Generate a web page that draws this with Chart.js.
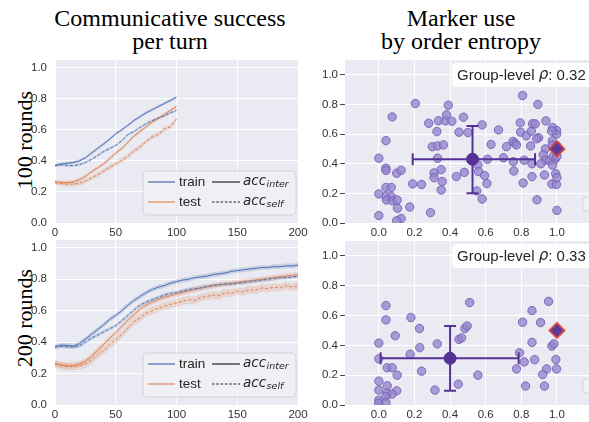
<!DOCTYPE html>
<html>
<head>
<meta charset="utf-8">
<script src="https://cdn.jsdelivr.net/npm/chart.js@4.4.0/dist/chart.umd.min.js"></script>
<style>
body { margin: 0; background: #fff; width: 589px; height: 422px; overflow: hidden; position: relative; }
canvas { position: absolute; }
.title { position: absolute; width: 300px; font-family: "Liberation Serif", serif; font-size: 24px; line-height: 23px; text-align: center; color: #000; white-space: nowrap; }
.row { position: absolute; width: 130px; height: 26px; line-height: 26px; font-family: "Liberation Serif", serif; font-size: 22px; text-align: center; transform: rotate(-90deg); white-space: nowrap; color: #000; }
</style>
</head>
<body>
<div class="title" style="left:20px;top:7px">Communicative success<br>per turn</div>
<div class="title" style="left:311px;top:7px">Marker use<br>by order entropy</div>
<div class="row" style="left:-40px;top:127px">100 rounds</div>
<div class="row" style="left:-40px;top:305px">200 rounds</div>

<canvas id="lineTop" width="300" height="190" style="left:20px;top:55px"></canvas>
<canvas id="scatTop" width="289" height="190" style="left:300px;top:55px"></canvas>
<canvas id="lineBot" width="300" height="192" style="left:20px;top:235px"></canvas>
<canvas id="scatBot" width="289" height="191" style="left:300px;top:236px"></canvas>

<script>
// ---- data: communicative success per turn ----
const rounds100 = [0, 5, 10, 15, 20, 25, 30, 35, 40, 45, 50, 55, 60, 65, 70, 75, 80, 85, 90, 95, 100];
const trainInter100 = [0.37, 0.38, 0.385, 0.39, 0.40, 0.42, 0.45, 0.48, 0.51, 0.54, 0.575, 0.60, 0.63, 0.66, 0.685, 0.71, 0.73, 0.75, 0.77, 0.79, 0.81];
const trainSelf100 = [0.37, 0.375, 0.37, 0.37, 0.375, 0.39, 0.41, 0.435, 0.46, 0.48, 0.50, 0.53, 0.57, 0.59, 0.615, 0.64, 0.66, 0.675, 0.69, 0.71, 0.725];
const testInter100 = [0.265, 0.26, 0.26, 0.265, 0.28, 0.30, 0.33, 0.355, 0.38, 0.415, 0.45, 0.48, 0.52, 0.56, 0.59, 0.62, 0.65, 0.675, 0.70, 0.725, 0.75];
const testSelf100 = [0.26, 0.255, 0.25, 0.25, 0.255, 0.27, 0.29, 0.31, 0.335, 0.36, 0.38, 0.405, 0.43, 0.465, 0.49, 0.525, 0.555, 0.57, 0.605, 0.62, 0.67];

const rounds200 = [0, 5, 10, 15, 20, 25, 30, 35, 40, 45, 50, 55, 60, 65, 70, 75, 80, 85, 90, 95,
  100, 105, 110, 115, 120, 125, 130, 135, 140, 145, 150, 155, 160, 165, 170, 175, 180, 185, 190, 195, 200];
const trainInter200 = [0.37, 0.38, 0.38, 0.375, 0.39, 0.42, 0.45, 0.48, 0.51, 0.545,
  0.57, 0.60, 0.635, 0.665, 0.69, 0.715, 0.735, 0.75, 0.76, 0.775,
  0.785, 0.795, 0.80, 0.81, 0.815, 0.82, 0.83, 0.835, 0.84, 0.85,
  0.855, 0.86, 0.865, 0.87, 0.875, 0.875, 0.88, 0.88, 0.885, 0.885, 0.89];
const trainSelf200 = [0.37, 0.375, 0.37, 0.37, 0.375, 0.40, 0.425, 0.445, 0.465, 0.485,
  0.505, 0.535, 0.57, 0.605, 0.635, 0.655, 0.67, 0.685, 0.70, 0.71,
  0.715, 0.725, 0.735, 0.74, 0.745, 0.755, 0.76, 0.765, 0.77, 0.77,
  0.775, 0.78, 0.785, 0.79, 0.795, 0.80, 0.805, 0.81, 0.81, 0.815, 0.82];
const testInter200 = [0.265, 0.255, 0.25, 0.25, 0.26, 0.28, 0.31, 0.35, 0.385, 0.425,
  0.46, 0.50, 0.54, 0.575, 0.61, 0.635, 0.655, 0.67, 0.685, 0.695,
  0.705, 0.715, 0.725, 0.735, 0.745, 0.75, 0.76, 0.765, 0.77, 0.775,
  0.78, 0.785, 0.79, 0.795, 0.80, 0.805, 0.81, 0.815, 0.82, 0.825, 0.83];
const testSelf200 = [0.26, 0.25, 0.245, 0.245, 0.25, 0.26, 0.285, 0.32, 0.345, 0.385,
  0.415, 0.45, 0.49, 0.53, 0.555, 0.585, 0.60, 0.615, 0.63, 0.64,
  0.65, 0.66, 0.67, 0.665, 0.685, 0.69, 0.70, 0.695, 0.715, 0.71,
  0.725, 0.72, 0.735, 0.73, 0.745, 0.74, 0.75, 0.745, 0.76, 0.75, 0.76];

// half width of the shaded bands
const band100 = [0.010, 0.008, 0.012, 0.015];
const band200 = [0.015, 0.012, 0.018, 0.025];

const roundTicks = [0, 50, 100, 150, 200];
const accTicks = [0, 0.2, 0.4, 0.6, 0.8, 1.0];
const seriesLabels = ['train', 'test'];
const metricLabels = [['acc', 'inter'], ['acc', 'self']];

// ---- data: marker use by order entropy ----
const entTopX = [0.00, 0.04, 0.075, 0.04, 0.04, 0.10, 0.125, 0.04, 0.07, 0.00, 0.04, 0.07, 0.043, 0.077, 0.103, 0.105, 0.174,
  0.205, 0.19, 0.24, 0.28, 0.326, 0.335, 0.373, 0.38, 0.39, 0.41, 0.30, 0.33, 0.363, 0.33, 0.31, 0.31, 0.35, 0.356, 0.35,
  0.435, 0.48, 0.45, 0.475, 0.50, 0.58, 0.556, 0.56, 0.594, 0.607, 0.55, 0.58, 0.61, 0.63, 0.672, 0.70, 0.717, 0.753, 0.764,
  0.773, 0.755, 0.758, 0.807, 0.794, 0.796, 0.828, 0.856, 0.863, 0.878, 0.893, 0.938, 0.897, 0.886, 0.852, 0.816, 0.86,
  0.81, 0.86, 0.888, 0.935, 0.923, 0.935, 0.96, 0.99, 0.91, 0.975, 0.93, 0.972, 0.997, 0.976, 0.998, 0.998, 0.97, 0.974,
  0.975, 1.0, 0.98, 1.0, 0.993, 1.0, 1.0, 0.0, 0.125, 0.10, 0.29];
const entTopY = [0.437, 0.556, 0.716, 0.37, 0.355, 0.336, 0.356, 0.24, 0.24, 0.196, 0.18, 0.178, 0.155, 0.15, 0.155, 0.10, 0.108,
  0.806, 0.264, 0.26, 0.673, 0.617, 0.69, 0.69, 0.73, 0.795, 0.687, 0.515, 0.52, 0.527, 0.437, 0.338, 0.306, 0.36, 0.28, 0.223,
  0.313, 0.342, 0.613, 0.714, 0.61, 0.662, 0.392, 0.347, 0.32, 0.266, 0.216, 0.162, 0.43, 0.53, 0.628, 0.44, 0.515, 0.55, 0.538,
  0.527, 0.414, 0.351, 0.86, 0.676, 0.613, 0.588, 0.62, 0.67, 0.669, 0.80, 0.689, 0.576, 0.568, 0.52, 0.424, 0.40,
  0.27, 0.313, 0.157, 0.50, 0.46, 0.425, 0.42, 0.43, 0.40, 0.39, 0.324, 0.263, 0.26, 0.644, 0.624, 0.60, 0.62, 0.554,
  0.527, 0.52, 0.453, 0.45, 0.333, 0.306, 0.085, 0.05, 0.03, 0.015, 0.07];
const entBotX = [0.04, 0.04, 0.0, 0.092, 0.18, 0.228, 0.23, 0.328, 0.176, 0.0, 0.047, 0.075, 0.103, 0.24, 0.0, 0.047, 0.0, 0.10,
  0.047, 0.075, 0.04, 0.0, 0.0, 0.04, 0.315, 0.446, 0.51, 0.483, 0.496, 0.45, 0.465, 0.556, 0.807, 0.86, 0.908, 0.953, 0.86,
  0.972, 0.983, 0.79, 0.816, 0.875, 0.994, 0.773, 0.942, 0.998, 0.92, 0.824, 0.93];
const entBotY = [0.667, 0.571, 0.415, 0.465, 0.587, 0.513, 0.385, 0.41, 0.34, 0.31, 0.25, 0.25, 0.20, 0.227, 0.16, 0.129, 0.10, 0.095,
  0.078, 0.073, 0.058, 0.033, 0.013, 0.015, 0.10, 0.14, 0.687, 0.513, 0.53, 0.44, 0.45, 0.20, 0.555, 0.633, 0.553, 0.695, 0.42,
  0.395, 0.41, 0.35, 0.289, 0.304, 0.305, 0.242, 0.242, 0.242, 0.204, 0.127, 0.127];

const meanTop = [0.526, 0.43];
const xRangeTop = [0.19, 0.877];
const yRangeTop = [0.20, 0.655];
const meanBot = [0.40, 0.313];
const xRangeBot = [0.01, 0.785];
const yRangeBot = [0.095, 0.53];
const targetPoint = [1.0, 0.5];
const rhoTop = '0.32';
const rhoBot = '0.33';
const entropyTicks = [0, 0.2, 0.4, 0.6, 0.8, 1.0];

const BLUE = '#4C72B0';
const ORANGE = '#DD8452';
const PURPLE = '#553296';

Chart.defaults.font.family = '"Liberation Sans", Arial, sans-serif';
Chart.defaults.font.size = 11.5;
Chart.defaults.color = '#333';

const panelBg = {
    id: 'panelBg',
    beforeDraw(chart) {
        const { ctx, chartArea: a } = chart;
        ctx.save();
        ctx.fillStyle = '#EAEAF2';
        ctx.fillRect(a.left, a.top, a.right - a.left, a.bottom - a.top);
        ctx.restore();
    }
};

const accLegend = {
    id: 'accLegend',
    afterDraw(chart) {
        const { ctx, chartArea: a } = chart;
        const l = a.right - 155, t = a.bottom - 52;
        ctx.save();
        ctx.beginPath();
        ctx.roundRect(l, t, 153, 44, 4);
        ctx.fillStyle = 'rgba(240,240,245,0.85)';
        ctx.fill();
        ctx.strokeStyle = '#d2d2da';
        ctx.lineWidth = 1;
        ctx.stroke();
        const colors = ['rgba(76,114,176,0.85)', 'rgba(221,132,82,0.75)'];
        for (let i = 0; i < 2; i++) {
            const y = t + 11 + i * 20;
            ctx.lineWidth = 1.5;
            ctx.setLineDash([]);
            ctx.strokeStyle = colors[i];
            ctx.beginPath(); ctx.moveTo(l + 5, y); ctx.lineTo(l + 32, y); ctx.stroke();
            ctx.strokeStyle = '#222';
            ctx.lineWidth = 1.2;
            ctx.setLineDash(i === 0 ? [] : [2.5, 1.8]);
            ctx.beginPath(); ctx.moveTo(l + 69, y); ctx.lineTo(l + 97, y); ctx.stroke();
            ctx.setLineDash([]);
            ctx.fillStyle = '#262626';
            ctx.textBaseline = 'middle';
            ctx.font = '13.5px "Liberation Sans", Arial, sans-serif';
            ctx.fillText(seriesLabels[i], l + 36, y);
            ctx.font = 'italic 13.5px "DejaVu Sans", sans-serif';
            ctx.fillText(metricLabels[i][0], l + 100, y - 1);
            const w = ctx.measureText(metricLabels[i][0]).width;
            ctx.font = 'italic 9.5px "DejaVu Sans", sans-serif';
            ctx.fillText(metricLabels[i][1], l + 100 + w + 0.5, y + 3);
        }
        ctx.restore();
    }
};

// keep tick labels from pushing the plot area around
function fixWidth(w) {
    return s => { s.width = w; s.paddingTop = 0; s.paddingBottom = 0; };
}
function fixHeight(h) {
    return s => { s.height = h; s.paddingLeft = 0; s.paddingRight = 0; };
}

function lineDataset(rounds, values, color, dash) {
    return {
        data: rounds.map((r, i) => ({ x: r, y: values[i] })),
        borderColor: color, borderWidth: 1, borderDash: dash,
        pointRadius: 0, fill: false, tension: 0
    };
}

function bandDatasets(rounds, values, half, color) {
    return [{
        data: rounds.map((r, i) => ({ x: r, y: values[i] + half })),
        borderWidth: 0, pointRadius: 0, fill: false
    }, {
        data: rounds.map((r, i) => ({ x: r, y: values[i] - half })),
        borderWidth: 0, pointRadius: 0, fill: '-1', backgroundColor: color
    }];
}

function initLineChart(id, rounds, trainInter, trainSelf, testInter, testSelf, band) {
    const blueBand = 'rgba(76,114,176,0.22)';
    const orangeBand = 'rgba(221,132,82,0.22)';
    new Chart(document.getElementById(id), {
        type: 'line',
        data: {
            datasets: [
                lineDataset(rounds, trainInter, BLUE, []),
                lineDataset(rounds, trainSelf, BLUE, [3, 2]),
                lineDataset(rounds, testInter, ORANGE, []),
                lineDataset(rounds, testSelf, ORANGE, [3, 2]),
                ...bandDatasets(rounds, trainInter, band[0], blueBand),
                ...bandDatasets(rounds, trainSelf, band[1], blueBand),
                ...bandDatasets(rounds, testInter, band[2], orangeBand),
                ...bandDatasets(rounds, testSelf, band[3], orangeBand)
            ]
        },
        options: {
            responsive: false,
            animation: false,
            devicePixelRatio: 1,
            layout: { autoPadding: false, padding: { top: 5, right: 22, left: 0, bottom: 0 } },
            plugins: { legend: { display: false }, tooltip: { enabled: false } },
            scales: {
                x: {
                    type: 'linear', min: 0, max: 200,
                    afterBuildTicks: s => { s.ticks = roundTicks.map(v => ({ value: v })); },
                    afterFit: fixHeight(22),
                    grid: { color: '#fff', lineWidth: 1, drawTicks: false },
                    border: { display: false },
                    ticks: { padding: 3, maxRotation: 0, callback: v => String(v) }
                },
                y: {
                    type: 'linear', min: 0, max: 1.05,
                    afterBuildTicks: s => { s.ticks = accTicks.map(v => ({ value: v })); },
                    afterFit: fixWidth(35),
                    grid: { color: '#fff', lineWidth: 1, drawTicks: false },
                    border: { display: false },
                    ticks: { padding: 8, callback: v => v.toFixed(1) }
                }
            }
        },
        plugins: [panelBg, accLegend]
    });
}

function initScatterChart(id, xs, ys, mean, xRange, yRange, rho) {
    const errorBars = {
        id: 'errorBars',
        afterDatasetDraw(chart, args) {
            if (args.index !== 2) return;
            const { ctx, scales: { x, y } } = chart;
            const cx = x.getPixelForValue(mean[0]), cy = y.getPixelForValue(mean[1]);
            const x0 = x.getPixelForValue(xRange[0]), x1 = x.getPixelForValue(xRange[1]);
            const y0 = y.getPixelForValue(yRange[0]), y1 = y.getPixelForValue(yRange[1]);
            const cap = 6;
            ctx.save();
            ctx.strokeStyle = PURPLE;
            ctx.lineWidth = 2;
            ctx.beginPath();
            ctx.moveTo(x0, cy); ctx.lineTo(x1, cy);
            ctx.moveTo(x0, cy - cap); ctx.lineTo(x0, cy + cap);
            ctx.moveTo(x1, cy - cap); ctx.lineTo(x1, cy + cap);
            ctx.moveTo(cx, y0); ctx.lineTo(cx, y1);
            ctx.moveTo(cx - cap, y0); ctx.lineTo(cx + cap, y0);
            ctx.moveTo(cx - cap, y1); ctx.lineTo(cx + cap, y1);
            ctx.stroke();
            ctx.restore();
        }
    };
    const rhoBox = {
        id: 'rhoBox',
        afterDraw(chart) {
            const { ctx, chartArea: a } = chart;
            ctx.save();
            ctx.beginPath();
            ctx.roundRect(a.right - 137, a.top + 3, 150, 24, 4);
            ctx.fillStyle = 'rgba(255,255,255,0.92)';
            ctx.fill();
            // cut-off box at the right edge
            ctx.beginPath();
            ctx.roundRect(a.right - 6, a.bottom - 26, 20, 14, 3);
            ctx.fillStyle = 'rgba(245,245,248,0.7)';
            ctx.fill();
            ctx.strokeStyle = '#d6d6de';
            ctx.lineWidth = 1;
            ctx.stroke();
            let tx = a.right - 132;
            const ty = a.top + 15.5;
            ctx.fillStyle = '#262626';
            ctx.textBaseline = 'middle';
            ctx.font = '15px "Liberation Sans", Arial, sans-serif';
            ctx.fillText('Group-level ', tx, ty);
            tx += ctx.measureText('Group-level ').width;
            ctx.font = 'italic 15px "DejaVu Sans", sans-serif';
            ctx.fillText('ρ', tx, ty);
            tx += ctx.measureText('ρ').width;
            ctx.font = '15px "Liberation Sans", Arial, sans-serif';
            ctx.fillText(': ' + rho, tx, ty);
            ctx.restore();
        }
    };
    new Chart(document.getElementById(id), {
        type: 'scatter',
        data: {
            datasets: [{
                data: [{ x: targetPoint[0], y: targetPoint[1] }],
                pointStyle: 'rectRot', pointRadius: 7.5,
                backgroundColor: '#5A3A9C', borderColor: 'rgba(226,62,52,0.85)', borderWidth: 2
            }, {
                data: [{ x: mean[0], y: mean[1] }],
                pointRadius: 6, backgroundColor: PURPLE, borderColor: PURPLE, borderWidth: 1
            }, {
                data: xs.map((v, i) => ({ x: v, y: ys[i] })),
                pointRadius: 4.2,
                backgroundColor: 'rgba(150,134,206,0.8)',
                borderColor: 'rgba(112,92,178,0.85)', borderWidth: 1
            }]
        },
        options: {
            responsive: false,
            animation: false,
            devicePixelRatio: 1,
            layout: { autoPadding: false, padding: { top: 5, right: 0, left: 0, bottom: 0 } },
            plugins: { legend: { display: false }, tooltip: { enabled: false } },
            scales: {
                x: {
                    type: 'linear', min: -0.19, max: 1.18,
                    afterBuildTicks: s => { s.ticks = entropyTicks.map(v => ({ value: v })); },
                    afterFit: fixHeight(22),
                    grid: { color: '#fff', lineWidth: 1, drawTicks: false },
                    border: { display: false },
                    ticks: { padding: 3, maxRotation: 0, callback: v => v.toFixed(1) }
                },
                y: {
                    type: 'linear', min: 0, max: 1.1,
                    afterBuildTicks: s => { s.ticks = accTicks.map(v => ({ value: v })); },
                    afterFit: fixWidth(45),
                    grid: { color: '#fff', lineWidth: 1, drawTicks: true, tickLength: 5, tickColor: '#444', tickWidth: 1 },
                    border: { display: false },
                    ticks: { padding: 2, callback: v => v.toFixed(1) }
                }
            }
        },
        plugins: [panelBg, errorBars, rhoBox]
    });
}

initLineChart('lineTop', rounds100, trainInter100, trainSelf100, testInter100, testSelf100, band100);
initLineChart('lineBot', rounds200, trainInter200, trainSelf200, testInter200, testSelf200, band200);
initScatterChart('scatTop', entTopX, entTopY, meanTop, xRangeTop, yRangeTop, rhoTop);
initScatterChart('scatBot', entBotX, entBotY, meanBot, xRangeBot, yRangeBot, rhoBot);
</script>
</body>
</html>
